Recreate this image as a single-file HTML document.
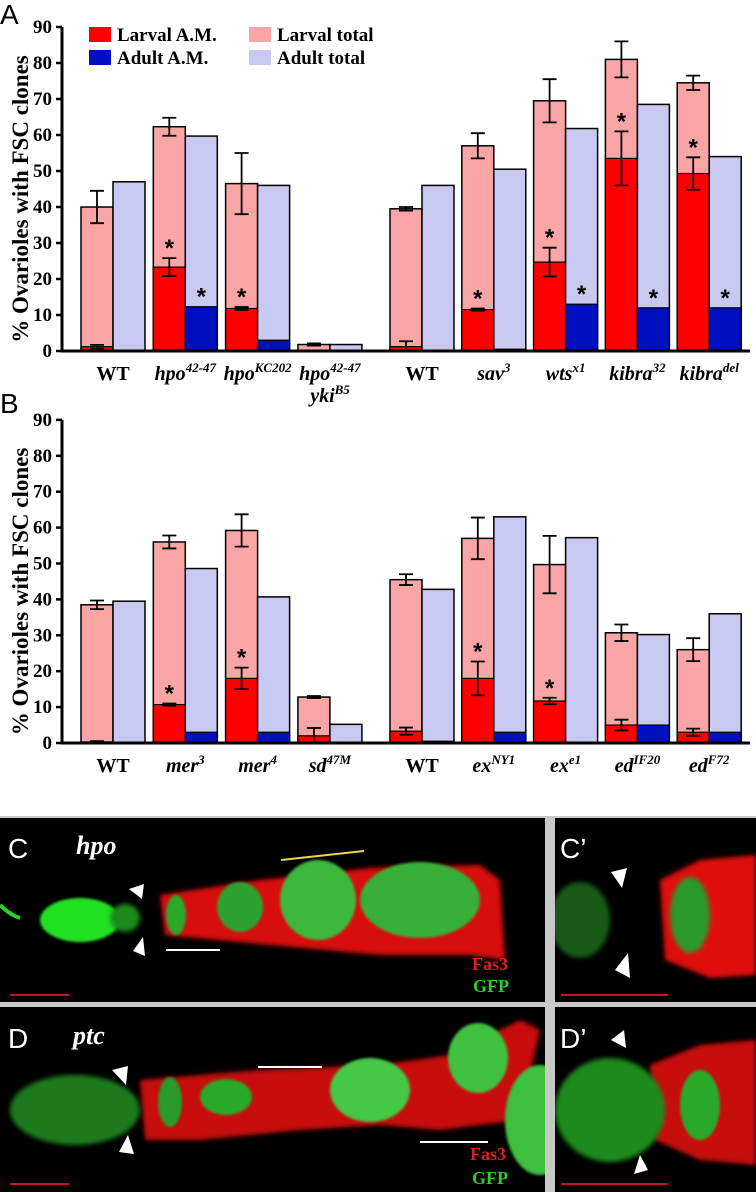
<!DOCTYPE html>
<html><head><meta charset="utf-8">
<style>
html,body{margin:0;padding:0;background:#fff;}
svg{display:block;}
text{font-family:"Liberation Serif",serif;font-weight:bold;}
</style></head>
<body>
<svg id="fig" width="756" height="1192" viewBox="0 0 756 1192" xmlns="http://www.w3.org/2000/svg">
<defs>
<filter id="bl" x="-20%" y="-20%" width="140%" height="140%"><feGaussianBlur stdDeviation="2.5"/></filter>
<filter id="bl2" x="-20%" y="-20%" width="140%" height="140%"><feGaussianBlur stdDeviation="1.2"/></filter>
<clipPath id="cpC"><rect x="0" y="818" width="545" height="184"/></clipPath>
<clipPath id="cpCp"><rect x="555" y="818" width="201" height="184"/></clipPath>
<clipPath id="cpD"><rect x="0" y="1007" width="545" height="185"/></clipPath>
<clipPath id="cpDp"><rect x="555" y="1007" width="201" height="185"/></clipPath>
</defs>
<g id="chartA"></g>
<g id="chartB"></g>

<g>
<rect x="0" y="816" width="756" height="376" fill="#c8c8c8"/>
<rect x="0" y="818" width="545" height="184" fill="#000"/>
<rect x="555" y="818" width="201" height="184" fill="#000"/>
<rect x="0" y="1007" width="545" height="185" fill="#000"/>
<rect x="555" y="1007" width="201" height="185" fill="#000"/>

<g clip-path="url(#cpC)">
<path d="M160,895 L260,880 L370,868 L480,865 L500,880 L505,960 L470,955 L380,955 L270,945 L165,935 Z" fill="#d81010" filter="url(#bl)"/>
<ellipse cx="80" cy="920" rx="40" ry="22" fill="#22e022" filter="url(#bl2)"/>
<ellipse cx="125" cy="918" rx="15" ry="14" fill="#1a8a1a" filter="url(#bl)"/>
<path d="M0,905 Q10,915 20,918" stroke="#2bd02b" stroke-width="4" fill="none"/>
<ellipse cx="176" cy="915" rx="10" ry="20" fill="#2aa82a" filter="url(#bl2)"/>
<ellipse cx="240" cy="907" rx="23" ry="25" fill="#2ea02e" filter="url(#bl2)"/>
<ellipse cx="318" cy="900" rx="38" ry="40" fill="#3cb83c" filter="url(#bl2)"/>
<ellipse cx="420" cy="900" rx="60" ry="38" fill="#38b038" filter="url(#bl2)"/>
<polygon points="129,889 142,899 144,884" fill="#fff"/>
<polygon points="133,951 143,937 145,956" fill="#fff"/>
<line x1="281" y1="860" x2="364" y2="851" stroke="#e8d84a" stroke-width="2"/>
<line x1="166" y1="950" x2="220" y2="950" stroke="#fff" stroke-width="2"/>
<line x1="10" y1="995" x2="69" y2="995" stroke="#c01818" stroke-width="2"/>
<text x="8" y="858" fill="#fff" font-size="28" style="font-family:'Liberation Sans',sans-serif;font-weight:normal">C</text>
<text x="76" y="854" fill="#fff" font-size="26" font-style="italic">hpo</text>
<text x="472" y="970" fill="#e02020" font-size="18">Fas3</text>
<text x="473" y="992" fill="#2ecc2e" font-size="18">GFP</text>
</g>
<g clip-path="url(#cpCp)">
<path d="M660,880 L700,860 L756,855 L756,975 L710,978 L665,960 Z" fill="#e01010" filter="url(#bl)"/>
<ellipse cx="580" cy="920" rx="30" ry="38" fill="#155a15" filter="url(#bl)"/>
<ellipse cx="690" cy="915" rx="20" ry="38" fill="#2a9a2a" filter="url(#bl)"/>
<polygon points="611,872 627,868 622,888" fill="#fff"/>
<polygon points="615,970 628,953 630,978" fill="#fff"/>
<line x1="561" y1="995" x2="668" y2="995" stroke="#c01818" stroke-width="2"/>
<text x="560" y="858" fill="#fff" font-size="28" style="font-family:'Liberation Sans',sans-serif;font-weight:normal">C’</text>
</g>
<g clip-path="url(#cpD)">
<path d="M140,1080 L260,1070 L380,1065 L450,1055 L480,1040 L520,1020 L540,1030 L520,1120 L440,1130 L380,1125 L300,1130 L200,1140 L145,1140 Z" fill="#c81010" filter="url(#bl)"/>
<ellipse cx="75" cy="1110" rx="65" ry="35" fill="#1e7a1e" filter="url(#bl)"/>
<ellipse cx="170" cy="1102" rx="12" ry="25" fill="#2a9a2a" filter="url(#bl2)"/>
<ellipse cx="226" cy="1097" rx="26" ry="18" fill="#2aa82a" filter="url(#bl2)"/>
<ellipse cx="370" cy="1090" rx="40" ry="32" fill="#44c844" filter="url(#bl2)"/>
<ellipse cx="478" cy="1058" rx="30" ry="35" fill="#40c040" filter="url(#bl2)"/>
<ellipse cx="540" cy="1120" rx="35" ry="55" fill="#3cc03c" filter="url(#bl2)"/>
<polygon points="112,1070 128,1066 126,1085" fill="#fff"/>
<polygon points="119,1152 128,1135 134,1154" fill="#fff"/>
<line x1="258" y1="1067" x2="322" y2="1067" stroke="#fff" stroke-width="2"/>
<line x1="420" y1="1142" x2="488" y2="1142" stroke="#fff" stroke-width="2"/>
<line x1="10" y1="1184" x2="69" y2="1184" stroke="#c01818" stroke-width="2"/>
<text x="8" y="1048" fill="#fff" font-size="28" style="font-family:'Liberation Sans',sans-serif;font-weight:normal">D</text>
<text x="73" y="1044" fill="#fff" font-size="26" font-style="italic">ptc</text>
<text x="470" y="1160" fill="#e02020" font-size="18">Fas3</text>
<text x="472" y="1184" fill="#2ecc2e" font-size="18">GFP</text>
</g>
<g clip-path="url(#cpDp)">
<path d="M650,1065 L700,1045 L756,1040 L756,1165 L700,1160 L655,1140 Z" fill="#c81010" filter="url(#bl)"/>
<ellipse cx="610" cy="1110" rx="55" ry="52" fill="#1e8a1e" filter="url(#bl)"/>
<ellipse cx="700" cy="1105" rx="20" ry="35" fill="#2aa82a" filter="url(#bl2)"/>
<polygon points="611,1040 624,1030 626,1048" fill="#fff"/>
<polygon points="634,1174 640,1155 648,1170" fill="#fff"/>
<line x1="561" y1="1184" x2="668" y2="1184" stroke="#c01818" stroke-width="2"/>
<text x="560" y="1048" fill="#fff" font-size="28" style="font-family:'Liberation Sans',sans-serif;font-weight:normal">D’</text>
</g>
</g>
</svg>
<script>
// ---------- Panel A data ----------
const catsA = ["WT","hpo|42-47","hpo|KC202","hpo|42-47","WT","sav|3","wts|x1","kibra|32","kibra|del"];
const larvalTotalA = [40, 62.3, 46.5, 1.8, 39.5, 57, 69.5, 81, 74.5];
const larvalTotalErrA = [4.5, 2.5, 8.5, 0.3, 0.5, 3.5, 6, 5, 2];
const larvalAMA = [1.2, 23.3, 11.8, 0, 1.2, 11.5, 24.7, 53.5, 49.3];
const larvalAMErrA = [0.5, 2.5, 0.4, 0, 1.5, 0.3, 4, 7.5, 4.5];
const adultTotalA = [47, 59.7, 46, 1.8, 46, 50.5, 61.8, 68.5, 54];
const adultAMA = [0, 12.3, 3, 0, 0, 0.5, 13, 12, 12];
const starLarvalA = [0,1,1,0,0,1,1,1,1];
const starAdultA = [0,1,0,0,0,0,1,1,1];
// ---------- Panel B data ----------
const catsB = ["WT","mer|3","mer|4","sd|47M","WT","ex|NY1","ex|e1","ed|IF20","ed|F72"];
const larvalTotalB = [38.5, 56, 59.2, 12.8, 45.5, 57, 49.7, 30.7, 26];
const larvalTotalErrB = [1.2, 1.8, 4.5, 0.3, 1.5, 5.8, 8, 2.3, 3.2];
const larvalAMB = [0.3, 10.7, 18, 2, 3.3, 18, 11.7, 5, 3];
const larvalAMErrB = [0.2, 0.3, 3, 2.2, 1, 4.7, 0.9, 1.5, 1];
const adultTotalB = [39.5, 48.6, 40.7, 5.2, 42.8, 63, 57.2, 30.2, 36];
const adultAMB = [0, 3, 3, 0, 0.5, 3, 0, 5, 3];
const starLarvalB = [0,1,1,0,0,1,1,0,0];
const starAdultB = [0,0,0,0,0,0,0,0,0];
const yTicks = [0,10,20,30,40,50,60,70,80,90];

const NS = "http://www.w3.org/2000/svg";
function mk(parent, tag, attrs){const e=document.createElementNS(NS,tag);for(const k in attrs)e.setAttribute(k,attrs[k]);parent.appendChild(e);return e;}

function drawPanel(g, y0, scale, cats, lt, lte, lam, lame, at, aam, sl, sa, letter, letterY){
  const yS = v => y0 - v*scale;
  const xS = i => i<4 ? 81 + i*72.3 : 390 + (i-4)*71.8;
  const bw = 32;
  let t = mk(g,"text",{x:0,y:letterY,"font-size":28,style:"font-family:'Liberation Sans',sans-serif;font-weight:normal"});
  t.textContent = letter;
  
  
  t = mk(g,"text",{x:0,y:0,"font-size":23,"text-anchor":"middle",transform:`translate(28,${yS(45)+10}) rotate(-90)`});
  t.textContent = "% Ovarioles with FSC clones";
  
  
  for(let i=0;i<cats.length;i++){
    const x = xS(i);
    let r = mk(g,"rect",{x:x,y:yS(lt[i]),width:bw,height:lt[i]*scale,fill:"#f9a5a5",stroke:"#000","stroke-width":1.5});
    
    
    if(lam[i]>0){
      r = mk(g,"rect",{x:x,y:yS(lam[i]),width:bw,height:lam[i]*scale,fill:"#ff0000",stroke:"#000","stroke-width":1.2});
      
      
    }
    r = mk(g,"rect",{x:x+bw,y:yS(at[i]),width:bw,height:at[i]*scale,fill:"#c8c9f0",stroke:"#000","stroke-width":1.5});
    
    
    if(aam[i]>0){
      r = mk(g,"rect",{x:x+bw,y:yS(aam[i]),width:bw,height:aam[i]*scale,fill:"#0010c0",stroke:"#000","stroke-width":1.2});
      
      
    }
    const eb = (v,e)=>{
      const cx = x+bw/2;
      const p = mk(g,"path",{d:`M${cx},${yS(v+e)}V${yS(Math.max(0,v-e))}M${cx-7},${yS(v+e)}h14M${cx-7},${yS(Math.max(0,v-e))}h14`,stroke:"#000","stroke-width":1.8,fill:"none"});
      
      
    };
    eb(lt[i],lte[i]);
    if(lam[i]>0) eb(lam[i],lame[i]);
    if(sl[i]){
      const s = mk(g,"text",{x:x+bw/2,y:yS(lam[i]+lame[i])-2,"font-size":24,"text-anchor":"middle",style:"font-family:'Liberation Sans',sans-serif"});
      s.textContent="*";
      
      
    }
    if(sa[i]){
      const s = mk(g,"text",{x:x+bw*1.5,y:yS(aam[i])-2,"font-size":24,"text-anchor":"middle",style:"font-family:'Liberation Sans',sans-serif"});
      s.textContent="*";
      
      
    }
    const parts = cats[i].split("|");
    const lbl = mk(g,"text",{x:x+bw,y:y0+29,"font-size":20,"text-anchor":"middle"});
    
    
    if(parts.length===1){ lbl.textContent = parts[0]; }
    else {
      const a = mk(lbl,"tspan",{"font-style":"italic"}); a.textContent = parts[0];
      const b = mk(lbl,"tspan",{"font-style":"italic","font-size":13,dy:-8}); b.textContent = parts[1];
    }
  }
  let ax = mk(g,"path",{d:`M62,${yS(90)}V${y0}H750`,stroke:"#000","stroke-width":3,fill:"none"});
  
  
  for(const v of yTicks){
    const tk = mk(g,"line",{x1:56,x2:62,y1:yS(v),y2:yS(v),stroke:"#000","stroke-width":2.5});
    
    
    const tl = mk(g,"text",{x:52,y:yS(v)+6,"font-size":19,"text-anchor":"end"});
    tl.textContent = v;
    
    
  }
}
const gA = document.getElementById("chartA");
const gB = document.getElementById("chartB");
drawPanel(gA, 351, 3.6, catsA, larvalTotalA, larvalTotalErrA, larvalAMA, larvalAMErrA, adultTotalA, adultAMA, starLarvalA, starAdultA, "A", 24);
drawPanel(gB, 743, 3.59, catsB, larvalTotalB, larvalTotalErrB, larvalAMB, larvalAMErrB, adultTotalB, adultAMB, starLarvalB, starAdultB, "B", 413);
const yk = mk(gA,"text",{x:330,y:402,"font-size":20,"text-anchor":"middle"});


const yk1 = mk(yk,"tspan",{"font-style":"italic"}); yk1.textContent="yki";
const yk2 = mk(yk,"tspan",{"font-style":"italic","font-size":13,dy:-8}); yk2.textContent="B5";
const legItems = [["Larval A.M.","#ff0000",89,27],["Larval total","#f9a5a5",249,27],["Adult A.M.","#0010c0",89,50],["Adult total","#c8c9f0",249,50]];
for(const [lab,col,x,y] of legItems){
  const r = mk(gA,"rect",{x:x,y:y,width:22,height:15,fill:col});
  
  
  const t = mk(gA,"text",{x:x+28,y:y+14,"font-size":19});
  t.textContent = lab;
  
  
}
</script>
</body></html>
